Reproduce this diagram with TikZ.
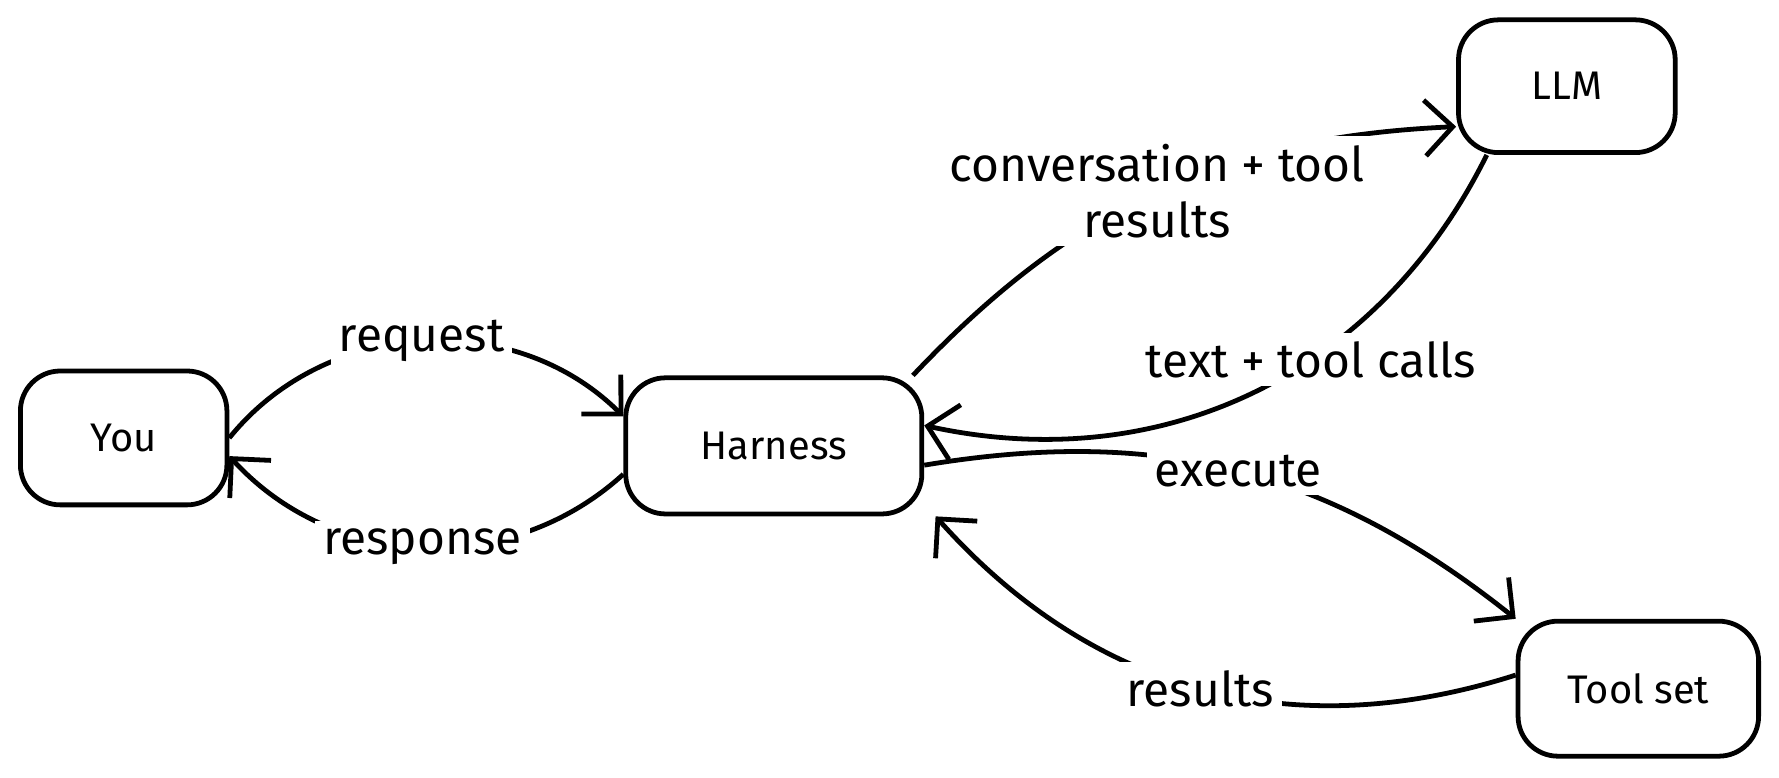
\documentclass[tikz,border=0pt]{standalone}
\usepackage{fontspec}
\setmainfont{Fira Sans}
\usetikzlibrary{arrows.meta}
\usetikzlibrary{positioning}
\tikzset{
  box/.style={draw, very thick, rounded corners=10pt, minimum width=1.85cm, minimum height=1.18cm},
  flow/.style={very thick, -{Straight Barb[length=7pt,width=14pt]}},
  lbl/.style={fill=white, inner sep=2pt, align=center, font=\large}
}
\begin{document}
\begin{tikzpicture}
        \useasboundingbox (0,0) rectangle (15.68,-6.85);
        % boxes
        \node[box, minimum width=1.82cm]            (you)     at ( 1.09,-3.86) {You};
        \node[box, minimum width=2.61cm, minimum height=1.2cm] (harness) at ( 6.82,-3.93) {Harness};
        \node[box, minimum width=1.91cm, minimum height=1.17cm] (llm)     at (13.81,-0.76) {LLM};
        \node[box, minimum width=2.12cm, minimum height=1.19cm] (tools)   at (14.44,-6.07) {Tool set};
        % connectors
        \draw[flow] (you.east) to[bend left=48] node[lbl] {request} ([yshift=0.26cm]harness.west);
        \draw[flow] ([yshift=-0.25cm]harness.west) to[bend left=45] node[lbl] {response} ([yshift=-0.16cm]you.east);
        \draw[flow] ([xshift=-0.1cm]harness.north east) to[bend left=22] node[lbl, pos=0.5] {conversation + tool\\results} ([yshift=0.25cm]llm.south west);
        \draw[flow] ([xshift=0.27cm]llm.south west) to[bend left=38] node[lbl, pos=0.4] {text + tool calls} ([yshift=0.18cm]harness.east);
        \draw[flow] ([yshift=-0.17cm]harness.east) to[bend left=24] node[lbl] {execute} (tools.north west);
        \draw[flow] ([yshift=0.12cm]tools.west) to[bend left=33] node[lbl] {results} ([xshift=0.1cm]harness.south east);
\end{tikzpicture}
\end{document}
